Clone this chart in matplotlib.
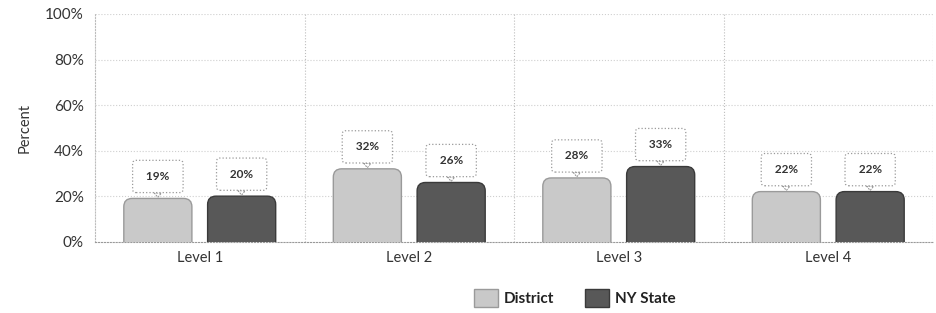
import matplotlib
matplotlib.use("Agg")
import matplotlib.pyplot as plt
from matplotlib.patches import FancyBboxPatch, Patch
import numpy as np

# data
levels = ["Level 1", "Level 2", "Level 3", "Level 4"]
district = [19, 32, 28, 22]
ny_state = [20, 26, 33, 22]
yticks = [0, 20, 40, 60, 80, 100]

plt.rcParams['font.family'] = ['Lato', 'DejaVu Sans']

fig = plt.figure(figsize=(9.36, 3.13), dpi=100)
ax = fig.add_axes([0.1015, 0.2278, 0.8953, 0.7275])

x = np.arange(len(levels))
width = 0.325
offset = 0.2

series = [
    (district, -offset, "#c9c9c9", "#9a9a9a", "District"),
    (ny_state, offset, "#585858", "#3a3a3a", "NY State"),
]

# px per unit: x 209.5 px, y (1%) 2.277 px
aspect = 209.5 / 2.277
r = 0.04

for vals, off, fc, ec, name in series:
    bars = ax.bar(x + off, vals, width, color=fc)
    for b in bars:
        b.set_visible(False)
        # extend below zero so only the top corners look rounded
        p = FancyBboxPatch((b.get_x(), -10), b.get_width(), b.get_height() + 10,
                           boxstyle=f"round,pad=0,rounding_size={r}",
                           mutation_aspect=aspect, fc=fc, ec=ec, lw=1.0,
                           zorder=3)
        ax.add_patch(p)
    for xi, v in zip(x + off, vals):
        ax.annotate(f" {v}% ", xy=(xi, v + 0.5), xytext=(0, 15),
                    textcoords="offset points", ha="center", va="center",
                    fontsize=8.5, fontweight="bold", color="#333333",
                    zorder=5,
                    bbox=dict(boxstyle="round,pad=0.9,rounding_size=0.3",
                              fc="white", ec="#9a9a9a", ls=":", lw=0.9),
                    arrowprops=dict(arrowstyle="wedge,tail_width=0.6,shrink_factor=0.5",
                                    fc="white", ec="#9a9a9a", ls=":", lw=0.8,
                                    shrinkA=0, shrinkB=0))

ax.set_xlim(-0.5, len(levels) - 0.5)
ax.set_ylim(0, 100)
ax.set_yticks(yticks)
ax.set_yticklabels([f"{t}%" for t in yticks])
ax.set_xticks(x)
ax.set_xticklabels(levels)
ax.tick_params(axis='y', length=0, labelsize=11, colors="#333333", pad=8)
ax.tick_params(axis='x', length=0, labelsize=10.5, colors="#333333", pad=7)
ax.set_ylabel("Percent", fontsize=10.5, color="#333333", labelpad=10)

# grid
for t in yticks[1:]:
    ax.axhline(t, color="#cfcfcf", lw=0.8, ls=":", zorder=1)
for b in np.arange(0.5, len(levels) - 0.5, 1.0):
    ax.axvline(b, color="#bdbdbd", lw=0.8, ls=":", zorder=1)
ax.axvline(len(levels) - 0.5, color="#bdbdbd", lw=0.8, ls=":", zorder=1)

for s in ["top", "right"]:
    ax.spines[s].set_visible(False)
ax.spines["left"].set_color("#bdbdbd")
ax.spines["left"].set_linestyle(":")
ax.spines["bottom"].set_color("#999999")
ax.spines["bottom"].set_linestyle(":")

handles = [Patch(fc=fc, ec=ec, label=name) for _, _, fc, ec, name in series]
leg = fig.legend(handles=handles, loc="center", bbox_to_anchor=(0.614, 0.047),
                 ncol=2, frameon=False, fontsize=11, handlelength=1.55,
                 handleheight=1.4, columnspacing=2.0, handletextpad=0.4)
for t in leg.get_texts():
    t.set_fontweight("bold")
    t.set_color("#222222")

fig.savefig("out.png", dpi=100)
